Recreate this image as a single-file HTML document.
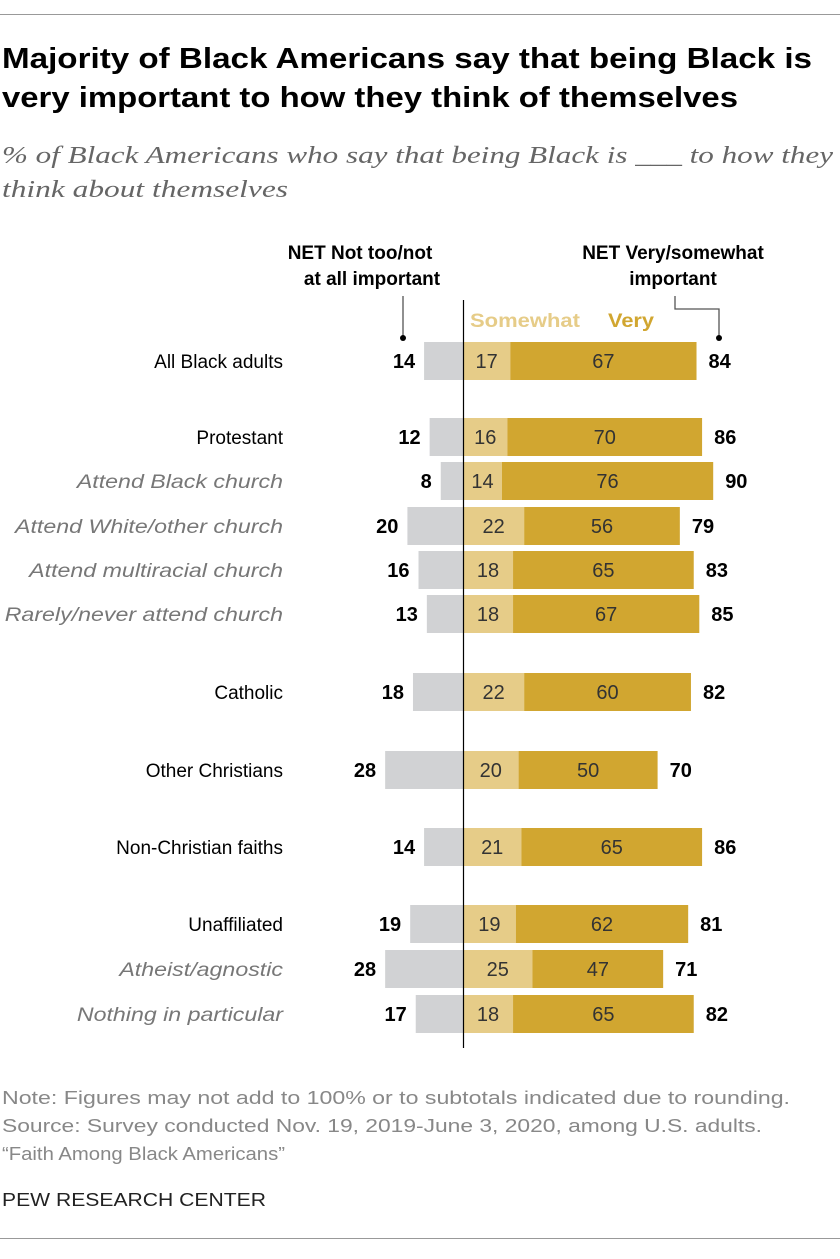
<!DOCTYPE html>
<html><head><meta charset="utf-8"><style>
body{margin:0;background:#fff;font-family:"Liberation Sans",sans-serif}
svg text{font-family:"Liberation Sans",sans-serif}
</style></head><body>
<svg width="840" height="1254" xmlns="http://www.w3.org/2000/svg">
<line x1="0" y1="14.5" x2="840" y2="14.5" stroke="#999"/>
<text x="2" y="68" font-size="29" font-weight="bold" fill="#000" textLength="810" lengthAdjust="spacingAndGlyphs">Majority of Black Americans say that being Black is</text>
<text x="2" y="107" font-size="29" font-weight="bold" fill="#000" textLength="736" lengthAdjust="spacingAndGlyphs">very important to how they think of themselves</text>
<text x="2" y="163" font-size="24" font-style="italic" fill="#666" textLength="831" lengthAdjust="spacingAndGlyphs" style="font-family:'Liberation Serif',serif">% of Black Americans who say that being Black is ___ to how they</text>
<text x="2" y="197" font-size="24" font-style="italic" fill="#666" textLength="286" lengthAdjust="spacingAndGlyphs" style="font-family:'Liberation Serif',serif">think about themselves</text>
<text x="360" y="259" font-size="19" font-weight="bold" text-anchor="middle">NET Not too/not</text>
<text x="372" y="285" font-size="19" font-weight="bold" text-anchor="middle">at all important</text>
<text x="673" y="259" font-size="19" font-weight="bold" text-anchor="middle">NET Very/somewhat</text>
<text x="673" y="285" font-size="19" font-weight="bold" text-anchor="middle">important</text>
<path d="M403 296V338" stroke="#555" stroke-width="1.3" fill="none"/>
<circle cx="403" cy="338" r="3" fill="#000"/>
<path d="M675 296V309H719V338" stroke="#555" stroke-width="1.3" fill="none"/>
<circle cx="719" cy="338" r="3" fill="#000"/>
<text x="470" y="327" font-size="19" font-weight="bold" fill="#e6cc88" textLength="110" lengthAdjust="spacingAndGlyphs">Somewhat</text>
<text x="608" y="327" font-size="19" font-weight="bold" fill="#d1a630" textLength="46" lengthAdjust="spacingAndGlyphs">Very</text>
<g id="bars"></g>
<line x1="463.5" y1="300" x2="463.5" y2="1048" stroke="#000" stroke-width="1.2"/>
<text x="2" y="1104" font-size="18" fill="#888" textLength="788" lengthAdjust="spacingAndGlyphs">Note: Figures may not add to 100% or to subtotals indicated due to rounding.</text>
<text x="2" y="1132" font-size="18" fill="#888" textLength="760" lengthAdjust="spacingAndGlyphs">Source: Survey conducted Nov. 19, 2019-June 3, 2020, among U.S. adults.</text>
<text x="2" y="1160" font-size="18" fill="#888" textLength="283" lengthAdjust="spacingAndGlyphs">“Faith Among Black Americans”</text>
<text x="2" y="1206" font-size="18" fill="#222" textLength="264" lengthAdjust="spacingAndGlyphs">PEW RESEARCH CENTER</text>
<line x1="0" y1="1238.5" x2="840" y2="1238.5" stroke="#999"/>
</svg>
<script>
const categories=["All Black adults","Protestant","Attend Black church","Attend White/other church","Attend multiracial church","Rarely/never attend church","Catholic","Other Christians","Non-Christian faiths","Unaffiliated","Atheist/agnostic","Nothing in particular"];
const subgroup=[false,false,true,true,true,true,false,false,false,false,true,true];
const notImportant=[14,12,8,20,16,13,18,28,14,19,28,17];
const somewhat=[17,16,14,22,18,18,22,20,21,19,25,18];
const very=[67,70,76,56,65,67,60,50,65,62,47,65];
const netImportant=[84,86,90,79,83,85,82,70,86,81,71,82];
const rowY=[361,437,481,526,570,614,692,770,847,924,969,1014];
const X0=463,K=2.78,H=38;
const x=v=>X0+v*K;
const g=document.getElementById('bars');
const NS="http://www.w3.org/2000/svg";
function mk(tag,attrs,txt){const e=document.createElementNS(NS,tag);for(const k in attrs)e.setAttribute(k,attrs[k]);if(txt!==undefined)e.textContent=txt;g.appendChild(e);return e;}
categories.forEach((c,i)=>{
 const y=rowY[i];
 let e=mk('text',{x:283,y:y+7,'font-size':19,'text-anchor':'end',fill:subgroup[i]?'#777':'#000','font-style':subgroup[i]?'italic':'normal'},c);
 
 
 if(subgroup[i]){const w=e.getComputedTextLength();e.setAttribute('textLength',w*1.22);e.setAttribute('lengthAdjust','spacingAndGlyphs');}
 const l=x(-notImportant[i]);
 e=mk('rect',{x:l,y:y-H/2,width:X0-l,height:H,fill:'#d1d2d4'});
 
 
 e=mk('text',{x:l-9,y:y+7,'font-size':20,'font-weight':'bold','text-anchor':'end'},notImportant[i]);
 
 
 e=mk('rect',{x:X0,y:y-H/2,width:somewhat[i]*K,height:H,fill:'#e6cc88'});
 
 
 e=mk('text',{x:X0+somewhat[i]*K/2,y:y+7,'font-size':20,'text-anchor':'middle',fill:'#333'},somewhat[i]);
 
 
 const vx=x(somewhat[i]);
 e=mk('rect',{x:vx,y:y-H/2,width:very[i]*K,height:H,fill:'#d1a630'});
 
 
 e=mk('text',{x:vx+very[i]*K/2,y:y+7,'font-size':20,'text-anchor':'middle',fill:'#333'},very[i]);
 
 
 e=mk('text',{x:x(somewhat[i]+very[i])+12,y:y+7,'font-size':20,'font-weight':'bold'},netImportant[i]);
 
 
});
</script>
</body></html>
